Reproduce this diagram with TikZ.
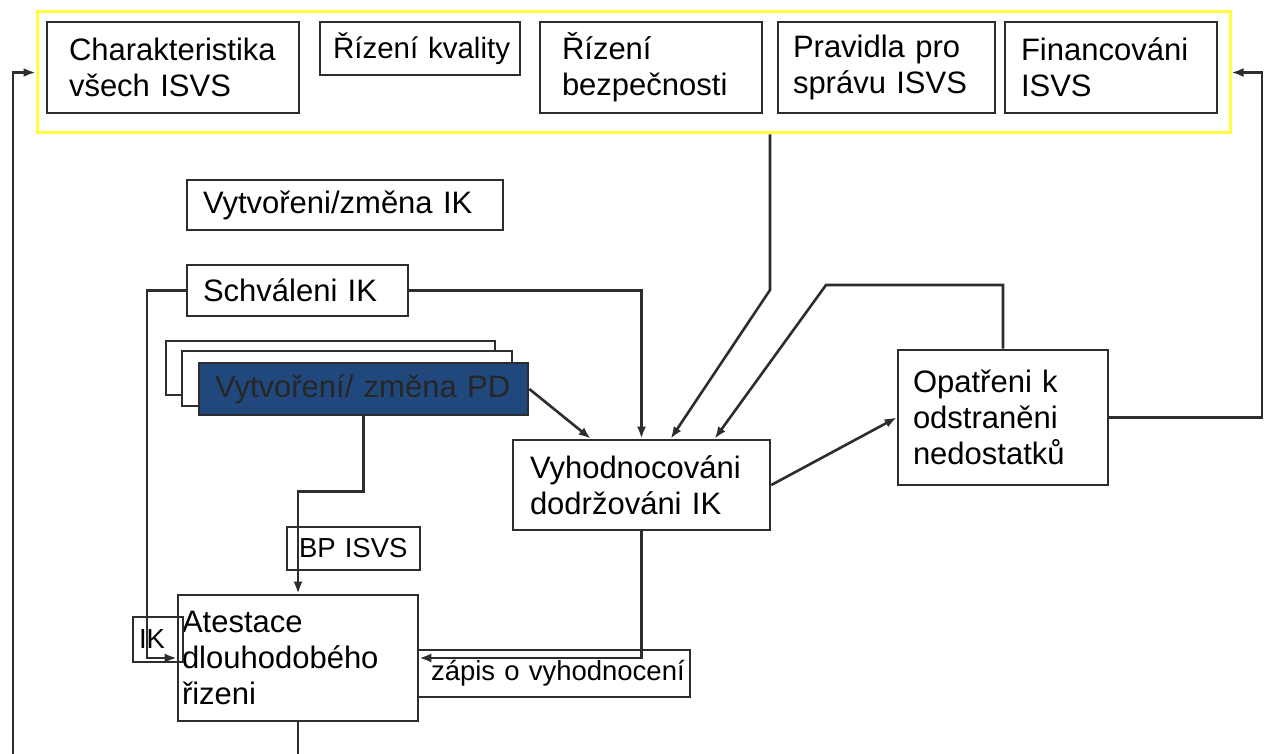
\documentclass[tikz,border=0pt]{standalone}
\usepackage{fontspec}
\setmainfont{Liberation Sans}
\usetikzlibrary{arrows.meta}
\hyphenpenalty=10000
\exhyphenpenalty=10000
\definecolor{edgegray}{RGB}{45,45,45}
\definecolor{pdblue}{RGB}{33,72,124}
\definecolor{frameyellow}{RGB}{255,255,60}
\tikzset{
  box/.style={draw=edgegray, line width=2.6pt, rectangle, align=left, inner ysep=0pt,
    font=\fontsize{31}{36}\selectfont},
  smallbox/.style={box, font=\fontsize{27.5}{32}\selectfont},
  conn/.style={draw=edgegray, line width=2.6pt},
  arr/.style={conn, -{Latex[length=12pt,width=9pt]}},
  shadow/.style={draw=edgegray, line width=2.6pt, fill=white},
}
\begin{document}
\begin{tikzpicture}[x=1pt,y=-1pt]
\useasboundingbox (0,0) rectangle (1269,754);
\fill[white] (0,0) rectangle (1269,754);

% frame round the top row
\node[draw=frameyellow, line width=3pt, minimum width=1193pt, minimum height=121pt, inner sep=0pt] (frame) at (633.5,72.5) {};

% top row
\node[box, minimum width=252pt, minimum height=91pt, inner xsep=22pt, text width=208pt] (charak) at (173,67.5) {Charakteristika\\všech~ISVS};
\node[box, font=\fontsize{29.5}{36}\selectfont, minimum width=200pt, minimum height=53pt, inner xsep=13pt, text width=174pt] (rkval) at (420,48.5) {Řízení~kvality};
\node[box, minimum width=222pt, minimum height=91pt, inner xsep=22pt, text width=178pt] (rbez) at (651,67.5) {Řízení\\bezpečnosti};
\node[box, minimum width=217pt, minimum height=91pt, inner xsep=15pt, text width=187pt] (prav) at (886.5,67.5) {Pravidla~pro\\správu~ISVS};
\node[box, minimum width=212pt, minimum height=91pt, inner xsep=16pt, text width=180pt] (fin) at (1111,67.5) {Financováni\\ISVS};

% IK boxes
\node[box, minimum width=316pt, minimum height=50pt, inner xsep=16pt, text width=284pt] (vytik) at (345,205) {Vytvořeni/změna~IK};
\node[box, minimum width=221pt, minimum height=51pt, inner xsep=16pt, text width=189pt] (schv) at (297.5,290.5) {Schváleni~IK};

% stacked PD boxes
\draw[shadow] (166,341) rectangle (495,395);
\draw[shadow] (182,351) rectangle (512,406);
\node[box, fill=pdblue, draw=edgegray, minimum width=329pt, minimum height=52pt, inner xsep=16pt, text width=297pt, text=black!85] (pd) at (363.5,389) {Vytvoření/~změna~PD};

% evaluation and measures
\node[box, minimum width=257pt, minimum height=90pt, inner xsep=17pt, text width=223pt] (vyh) at (641.5,485) {Vyhodnocováni\\dodržováni~IK};
\node[box, minimum width=210pt, minimum height=135pt, inner xsep=15pt, text width=180pt] (opat) at (1003,417.5) {Opatřeni~k\\odstraněni\\nedostatků};

% attestation and its inputs
\node[smallbox, minimum width=133pt, minimum height=43pt, inner xsep=12pt, text width=109pt] (bp) at (353.5,548.5) {BP~ISVS};
\node[box, minimum width=240pt, minimum height=126pt, inner xsep=4pt, text width=232pt] (atest) at (298,658) {Atestace\\dlouhodobého\\řizeni};
\node[smallbox, minimum width=50pt, minimum height=45pt, inner xsep=6pt, text width=38pt] (ik) at (158,639.5) {IK};
\node[smallbox, minimum width=272pt, minimum height=47pt, inner xsep=13pt, text width=246pt] (zapis) at (554,673.5) {zápis~o~vyhodnocení};

% bend points and free ends
\coordinate (lbot) at (13,754);
\coordinate (rturn) at (1262,417.5);
\coordinate (gap) at (770,290);
\coordinate (o1) at (1003,285);
\coordinate (o2) at (826,285);
\coordinate (s1) at (147,290.5);
\coordinate (abot) at (298,754);

% feedback loops to the top row
\draw[arr] (lbot) |- (frame.west);
\draw[arr] (opat.east) -- (rturn) |- (frame.east);

% inputs of the evaluation
\draw[arr] (pd.east) -- ([xshift=79pt]vyh.north west);
\draw[arr] (schv.east) -| (vyh.north);
\draw[arr] (frame.south -| gap) -- (gap) -- ([xshift=159pt]vyh.north west);
\draw[arr] (opat.north) -- (o1) -- (o2) -- ([xshift=203pt]vyh.north west);
\draw[arr] (vyh.east) -- (opat.west);

% inputs of the attestation
\draw[arr] (vyh.south) |- (atest.east);
\draw[arr] (pd.south) -- ++(0,75) -| (atest.north);
\draw[arr] (schv.west) -- (s1) |- (atest.west);
\draw[conn] (atest.south) -- (abot);
\end{tikzpicture}
\end{document}
